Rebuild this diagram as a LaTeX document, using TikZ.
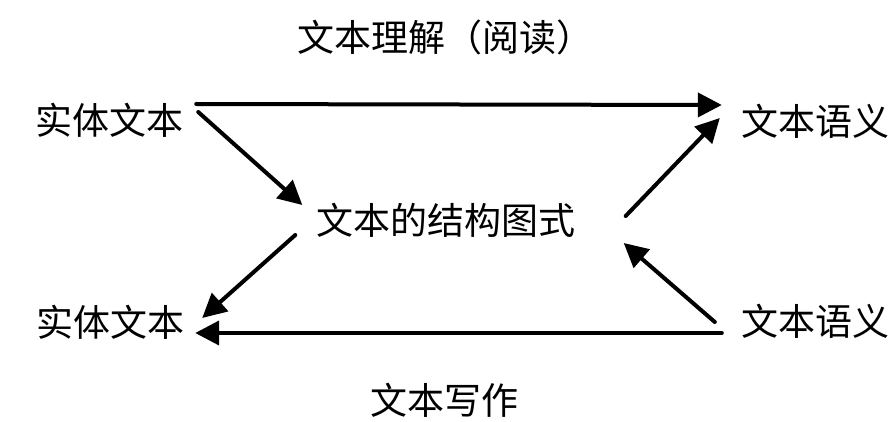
\documentclass[tikz,border=0pt]{standalone}
\usepackage{fontspec}
\newfontfamily\cjk{Noto Sans CJK SC}
\usetikzlibrary{arrows.meta,calc}
\tikzset{lbl/.style={inner sep=0pt,font=\cjk\fontsize{37}{44}\selectfont},
  link/.style={line width=4pt,line cap=round,-{Triangle[length=24pt,width=24pt]}}}
\begin{document}
\begin{tikzpicture}[x=1pt,y=-1pt]
\useasboundingbox (0,0) rectangle (896,422);
\foreach \n/\x/\y/\t in {read/445/37/文本理解（阅读）,srcA/109/120/实体文本,semA/815/121/文本语义,
  schema/446/220/文本的结构图式,srcB/110/322/实体文本,semB/815/321/文本语义,write/444/400/文本写作}{\node[lbl] (\n) at (\x,\y) {\t};}
\draw[link] ($(srcA.east)+(13,-16)$) -- ($(semA.west)+(-19,-16)$);
\draw[link] ($(srcA.east)+(15,-8)$) -- ($(schema.west)+(-14,-15)$);
\draw[link] ($(schema.east)+(50,-4)$) -- ($(semA.west)+(-21,-3)$);
\draw[link] ($(schema.west)+(-21,15)$) -- ($(srcB.east)+(18,-4)$);
\draw[link] ($(semB.west)+(-26,1)$) -- ($(schema.east)+(48,23)$);
\draw[link] ($(semB.west)+(-19,12)$) -- ($(srcB.east)+(11,11)$);
\end{tikzpicture}
\end{document}
